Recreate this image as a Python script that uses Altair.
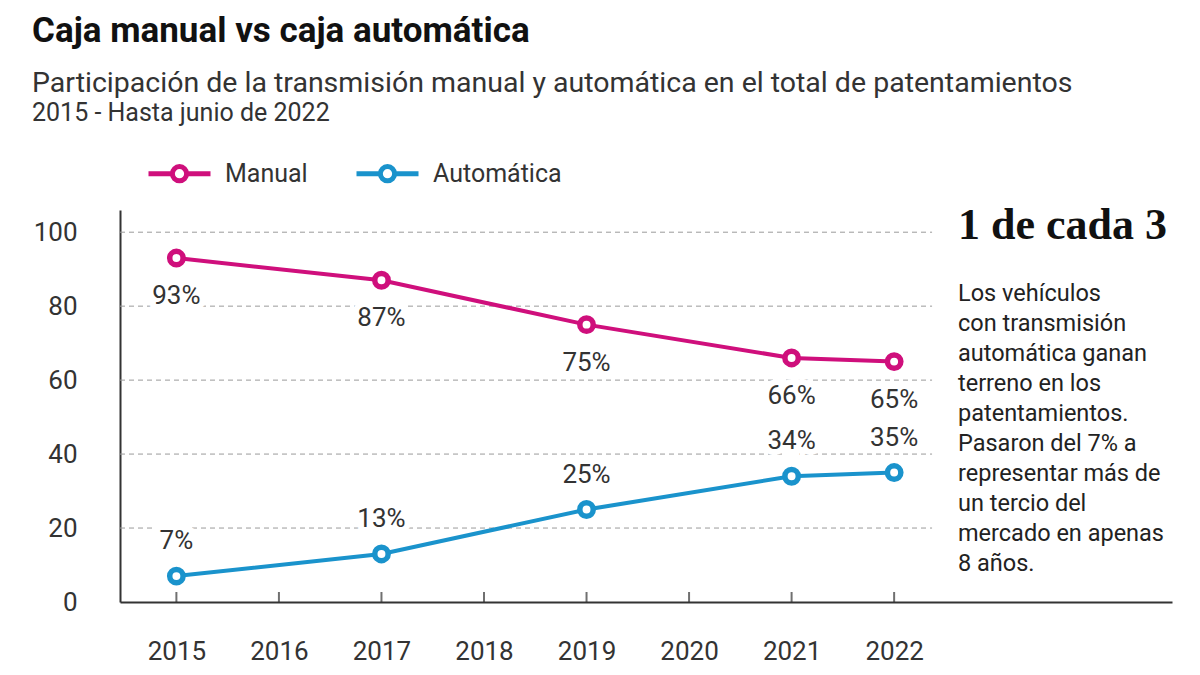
import altair as alt
import pandas as pd

years = [2015, 2017, 2019, 2021, 2022]
manual = [93, 87, 75, 66, 65]
automatica = [7, 13, 25, 34, 35]
series_names = ["Manual", "Automática"]
series_colors = ["#cf0f7c", "#1a93cc"]
tick_years = [2015, 2016, 2017, 2018, 2019, 2020, 2021, 2022]
grid_values = [20, 40, 60, 80, 100]

title = "Caja manual vs caja automática"
subtitle = "Participación de la transmisión manual y automática en el total de patentamientos"
dates = "2015 - Hasta junio de 2022"
note_head = "1 de cada 3"
note_lines = ["Los vehículos", "con transmisión", "automática ganan", "terreno en los",
              "patentamientos.", "Pasaron del 7% a", "representar más de",
              "un tercio del", "mercado en apenas", "8 años."]

W, H = 1052, 392
FONT = "Roboto"

df = pd.DataFrame({
    "year": years * 2,
    "value": manual + automatica,
    "serie": ["Manual"] * len(years) + ["Automática"] * len(years),
})
df["label"] = df["value"].astype(str) + "%"

xs = alt.Scale(domain=[2014.45, 2024.71], nice=False, zero=False)
ys = alt.Scale(domain=[0, 106], nice=False)
color = alt.Color("serie:N", scale=alt.Scale(domain=series_names, range=series_colors),
                  legend=alt.Legend(title=None, orient="none", direction="horizontal",
                                    legendX=26, legendY=-70,
                                    symbolType="M-1,0L-0.23,0M0.23,0L1,0M0.23,0A0.23,0.23 0 1,0 -0.23,0A0.23,0.23 0 1,0 0.23,0",
                                    symbolSize=3844, symbolStrokeWidth=5, symbolFillColor="white",
                                    labelFontSize=25, labelFont=FONT, labelColor="#333",
                                    labelOffset=12, columnPadding=38))

base = alt.Chart(df)

grid = alt.Chart(pd.DataFrame({"v": grid_values})).mark_rule(
    color="#9a9a9a", strokeDash=[5, 4], strokeWidth=1
).encode(y=alt.Y("v:Q", scale=ys), x=alt.datum(2014.45, scale=xs), x2=alt.datum(2022.37))

ticks = alt.Chart(pd.DataFrame({"t": tick_years})).mark_tick(
    color="#333", thickness=2, size=10, orient="vertical"
).encode(x=alt.X("t:Q", scale=xs), y=alt.value(H - 5))

lines = base.mark_line(strokeWidth=4).encode(
    x=alt.X("year:Q", scale=xs,
            axis=alt.Axis(title=None, values=tick_years, format="d", ticks=False,
                          domainColor="#333", domainWidth=2, grid=False,
                          labelFontSize=26, labelFont=FONT, labelColor="#333", labelPadding=36)),
    y=alt.Y("value:Q", scale=ys,
            axis=alt.Axis(title=None, values=[0] + grid_values, ticks=False, grid=False,
                          domainColor="#333", domainWidth=2,
                          labelFontSize=26, labelFont=FONT, labelColor="#333", labelPadding=43)),
    color=color,
)
points = base.mark_point(filled=True, fill="white", size=180, strokeWidth=5.5, opacity=1).encode(
    x=alt.X("year:Q", scale=xs), y=alt.Y("value:Q", scale=ys),
    stroke=alt.Stroke("serie:N", scale=alt.Scale(domain=series_names, range=series_colors), legend=None),
)


def labels(serie, dy):
    src = base.transform_filter(alt.datum.serie == serie)
    enc = dict(x=alt.X("year:Q", scale=xs), y=alt.Y("value:Q", scale=ys), text="label:N")
    halo = src.mark_text(dy=dy, fontSize=26, font=FONT, color="white", stroke="white",
                         strokeWidth=12).encode(**enc)
    txt = src.mark_text(dy=dy, fontSize=26, font=FONT, color="#333").encode(**enc)
    return halo + txt


def note(text, x, y, size, weight="normal", font=FONT, color="#222"):
    return alt.Chart(pd.DataFrame({"t": [text]})).mark_text(
        align="left", baseline="middle", fontSize=size, fontWeight=weight, font=font, color=color
    ).encode(text="t:N", x=alt.value(x), y=alt.value(y))


header = (note(title, -88, -179, 35, "bold", color="#111")
          + note(subtitle, -88, -127, 28.5, color="#333")
          + note(dates, -88, -97, 25, color="#333")
          + note(note_head, 838, 16, 44, "bold", "Liberation Serif", "#111"))
para = alt.Chart(pd.DataFrame({"t": [note_lines]})).mark_text(
    align="left", baseline="middle", fontSize=23.5, font=FONT, color="#222", lineHeight=30
).encode(text="t:N", x=alt.value(838), y=alt.value(84))

chart = alt.layer(
    grid, labels("Manual", 38), labels("Automática", -35), lines, points, ticks, header, para
).properties(
    width=W, height=H,
    autosize=alt.AutoSizeParams(type="none"),
    padding={"left": 112, "top": 202, "right": 20, "bottom": 68},
).configure_view(stroke=None)

chart.save("out.html", embed_options={"renderer": "svg", "actions": False})
